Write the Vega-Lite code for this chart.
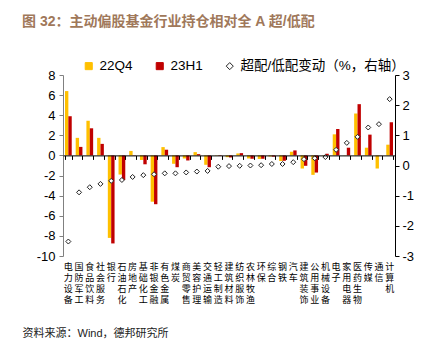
{
  "$schema": "https://vega.github.io/schema/vega-lite/v6.json",
  "width": 332,
  "height": 181,
  "autosize": {"type": "none"},
  "padding": {"left": 63, "top": 75, "right": 45, "bottom": 94},
  "background": "white",
  "config": {"font": "Liberation Sans, Noto Sans CJK SC", "view": {"stroke": null}},
  "title": {"text": "图 32：主动偏股基金行业持仓相对全 A 超/低配", "anchor": "start", "frame": "group", "dx": -41, "fontSize": 14, "fontWeight": "bold", "color": "#A0785A", "offset": 30},
  "data": {"values": [
    {"ind":"电力设备","22Q4":6.4,"23H1":3.9,"chg":-2.52},
    {"ind":"国防军工","22Q4":1.75,"23H1":0.85,"chg":-0.89},
    {"ind":"食品饮料","22Q4":3.45,"23H1":2.7,"chg":-0.72},
    {"ind":"社会服务","22Q4":1.75,"23H1":1.15,"chg":-0.61},
    {"ind":"银行","22Q4":-8.2,"23H1":-8.75,"chg":-0.51},
    {"ind":"石油石化","22Q4":-1.9,"23H1":-2.45,"chg":-0.48},
    {"ind":"房地产","22Q4":0.45,"23H1":0.03,"chg":-0.38},
    {"ind":"基础化工","22Q4":-0.45,"23H1":-0.88,"chg":-0.32},
    {"ind":"非银金融","22Q4":-4.6,"23H1":-4.85,"chg":-0.29},
    {"ind":"有色金属","22Q4":0.83,"23H1":0.57,"chg":-0.26},
    {"ind":"煤炭","22Q4":-0.83,"23H1":-1.17,"chg":-0.26},
    {"ind":"商贸零售","22Q4":-0.3,"23H1":-0.5,"chg":-0.23},
    {"ind":"美容护理","22Q4":0.33,"23H1":0.13,"chg":-0.2},
    {"ind":"交通运输","22Q4":-0.93,"23H1":-1.17,"chg":-0.18},
    {"ind":"轻工制造","22Q4":-0.03,"23H1":-0.05,"chg":-0.04},
    {"ind":"建筑材料","22Q4":-0.17,"23H1":-0.2,"chg":-0.02},
    {"ind":"纺织服饰","22Q4":0.2,"23H1":0.23,"chg":-0.01},
    {"ind":"农林牧渔","22Q4":-0.3,"23H1":-0.33,"chg":0.0},
    {"ind":"环保","22Q4":-0.35,"23H1":-0.33,"chg":0.01},
    {"ind":"综合","22Q4":-0.1,"23H1":-0.12,"chg":0.05},
    {"ind":"钢铁","22Q4":-0.55,"23H1":-0.53,"chg":0.05},
    {"ind":"汽车","22Q4":0.37,"23H1":0.5,"chg":0.11},
    {"ind":"建筑装饰","22Q4":-1.3,"23H1":-1.03,"chg":0.21},
    {"ind":"公用事业","22Q4":-1.93,"23H1":-1.7,"chg":0.24},
    {"ind":"机械设备","22Q4":0.03,"23H1":0.17,"chg":0.28},
    {"ind":"电子","22Q4":2.1,"23H1":2.63,"chg":0.52},
    {"ind":"家用电器","22Q4":0.02,"23H1":0.77,"chg":0.75},
    {"ind":"医药生物","22Q4":4.17,"23H1":5.1,"chg":0.95},
    {"ind":"传媒","22Q4":0.77,"23H1":2.07,"chg":1.26},
    {"ind":"通信","22Q4":-1.3,"23H1":0.02,"chg":1.37},
    {"ind":"计算机","22Q4":1.07,"23H1":3.3,"chg":2.2}
  ]},
  "layer": [
    {
      "transform": [{"fold": ["22Q4", "23H1"], "as": ["series", "value"]}],
      "mark": {"type": "bar"},
      "encoding": {
        "x": {"field": "ind", "type": "nominal", "sort": null,
          "scale": {"paddingInner": 0.37, "paddingOuter": 0.185},
          "axis": {"orient": "bottom", "domain": false, "ticks": false, "grid": false, "labelAngle": 0,
            "labelExpr": "split(datum.label, '')", "labelFontSize": 9, "labelLineHeight": 11,
            "labelBaseline": "top", "labelPadding": 6, "labelColor": "#000", "labelOverlap": false, "labelBound": false,
            "labelFont": "Noto Sans CJK SC",
            "title": "资料来源：Wind，德邦研究所", "titleX": -41, "titleY": 77, "titleAlign": "left", "titleAnchor": "start",
            "titleBaseline": "middle", "titleFontSize": 11, "titleFontWeight": "normal", "titleColor": "#222"}},
        "xOffset": {"field": "series", "type": "nominal", "sort": ["22Q4", "23H1"], "scale": {"paddingInner": 0}},
        "y": {"field": "value", "type": "quantitative", "scale": {"domain": [-10, 8], "nice": false},
          "axis": {"values": [-10, -8, -6, -4, -2, 0, 2, 4, 6, 8], "grid": false, "domainColor": "#808080", "tickColor": "#808080",
            "tickSize": 4, "labelFontSize": 13, "labelColor": "#000", "labelPadding": 4, "title": null, "labelExpr": "'' + datum.value"}},
        "color": {"field": "series", "type": "nominal",
          "scale": {"domain": ["22Q4", "23H1", "chg"], "range": ["#FFC000", "#C00000", "#FFFFFF"]},
          "legend": {"title": null, "orient": "none", "legendX": 19, "legendY": -16, "direction": "horizontal", "columns": 3,
            "symbolSize": 50, "labelFontSize": 13.5, "columnPadding": 20, "labelOffset": 4, "symbolStrokeWidth": 1, "padding": 0,
            "labelColor": "#000", "labelLimit": 400,
            "labelExpr": "datum.label == 'chg' ? '超配/低配变动（%，右轴）' : datum.label"}}
      }
    },
    {
      "transform": [{"fold": ["chg"], "as": ["series", "value"]}],
      "mark": {"type": "point", "filled": true, "size": 25, "strokeWidth": 1, "opacity": 1},
      "encoding": {
        "x": {"field": "ind", "type": "nominal", "sort": null,
          "axis": {"orient": "bottom", "offset": -100.6, "labels": false, "domain": true, "domainColor": "#000", "ticks": true,
            "tickBand": "extent", "tickSize": 4, "tickColor": "#000", "title": null, "grid": false, "zindex": 1}},
        "y": {"field": "value", "type": "quantitative", "scale": {"domain": [-3, 3], "nice": false},
          "axis": {"orient": "right", "values": [-3, -2, -1, 0, 1, 2, 3], "grid": false, "domainColor": "#000", "tickColor": "#000",
            "tickSize": 4, "labelFontSize": 13, "labelColor": "#000", "labelPadding": 3, "title": null, "labelExpr": "'' + datum.value"}},
        "color": {"field": "series", "type": "nominal",
          "scale": {"domain": ["22Q4", "23H1", "chg"], "range": ["#FFC000", "#C00000", "#FFFFFF"]},
          "legend": {"title": null, "orient": "none", "legendX": 19, "legendY": -16, "direction": "horizontal", "columns": 3,
            "symbolSize": 50, "labelFontSize": 13.5, "columnPadding": 20, "labelOffset": 4, "symbolStrokeWidth": 1, "padding": 0,
            "labelColor": "#000", "labelLimit": 400,
            "labelExpr": "datum.label == 'chg' ? '超配/低配变动（%，右轴）' : datum.label"}},
        "shape": {"field": "series", "type": "nominal",
          "scale": {"domain": ["22Q4", "23H1", "chg"], "range": ["square", "square", "diamond"]},
          "legend": {"title": null, "orient": "none", "legendX": 19, "legendY": -16, "direction": "horizontal", "columns": 3,
            "symbolSize": 50, "labelFontSize": 13.5, "columnPadding": 20, "labelOffset": 4, "symbolStrokeWidth": 1, "padding": 0,
            "labelColor": "#000", "labelLimit": 400,
            "labelExpr": "datum.label == 'chg' ? '超配/低配变动（%，右轴）' : datum.label"}},
        "stroke": {"field": "series", "type": "nominal",
          "scale": {"domain": ["22Q4", "23H1", "chg"], "range": ["#FFC000", "#C00000", "#222222"]},
          "legend": {"title": null, "orient": "none", "legendX": 19, "legendY": -16, "direction": "horizontal", "columns": 3,
            "symbolSize": 50, "labelFontSize": 13.5, "columnPadding": 20, "labelOffset": 4, "symbolStrokeWidth": 1, "padding": 0,
            "labelColor": "#000", "labelLimit": 400,
            "labelExpr": "datum.label == 'chg' ? '超配/低配变动（%，右轴）' : datum.label"}}
      }
    }
  ],
  "resolve": {"scale": {"y": "independent"}, "axis": {"x": "independent"}}
}
